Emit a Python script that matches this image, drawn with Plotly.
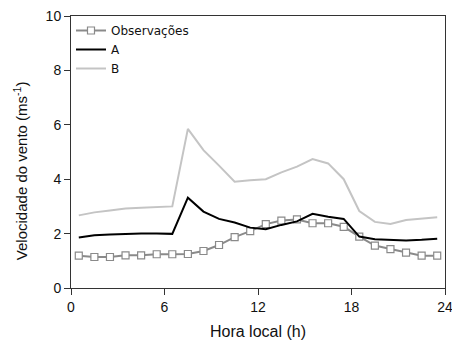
import plotly.graph_objects as go

hours = [0.5, 1.5, 2.5, 3.5, 4.5, 5.5, 6.5, 7.5, 8.5, 9.5, 10.5, 11.5,
         12.5, 13.5, 14.5, 15.5, 16.5, 17.5, 18.5, 19.5, 20.5, 21.5, 22.5, 23.5]
obs = [1.19, 1.14, 1.14, 1.20, 1.20, 1.24, 1.24, 1.25, 1.36, 1.58, 1.87, 2.09,
       2.35, 2.48, 2.52, 2.38, 2.38, 2.25, 1.89, 1.56, 1.43, 1.30, 1.19, 1.19]
a_vals = [1.86, 1.94, 1.97, 1.99, 2.00, 2.00, 1.99, 3.32, 2.81, 2.54, 2.41, 2.22,
          2.16, 2.32, 2.45, 2.73, 2.62, 2.54, 1.89, 1.79, 1.76, 1.75, 1.77, 1.81]
b_vals = [2.67, 2.78, 2.85, 2.92, 2.95, 2.97, 3.00, 5.85, 5.07, 4.50, 3.91, 3.96,
          4.00, 4.25, 4.46, 4.74, 4.58, 4.00, 2.83, 2.43, 2.35, 2.50, 2.56, 2.60]
x_ticks = [0, 6, 12, 18, 24]
y_ticks = [0, 2, 4, 6, 8, 10]

fig = go.Figure()
fig.add_trace(go.Scatter(x=hours, y=obs, name="Observações", mode="lines+markers",
                         line=dict(color="#8a8a8a", width=2),
                         marker=dict(symbol="square", size=7, color="white",
                                     line=dict(color="#8a8a8a", width=1.2))))
fig.add_trace(go.Scatter(x=hours, y=a_vals, name="A", mode="lines",
                         line=dict(color="black", width=2)))
fig.add_trace(go.Scatter(x=hours, y=b_vals, name="B", mode="lines",
                         line=dict(color="#c4c4c4", width=2)))

axis_common = dict(showgrid=False, zeroline=False, showline=True, linecolor="#333",
                   linewidth=1, mirror=True, ticks="outside", ticklen=6,
                   tickcolor="#333", automargin=False, ticklabeloverflow="allow",
                   tickfont=dict(family="Liberation Sans, Arial", size=14, color="#111"))
fig.update_xaxes(range=[0, 24], tickvals=x_ticks,
                 title=dict(text="Hora local (h)", font=dict(family="Liberation Sans, Arial", size=16, color="#111"), standoff=12),
                 **axis_common)
fig.update_yaxes(range=[0, 10], tickvals=y_ticks, **axis_common)
fig.add_annotation(text="Velocidade do vento (ms<sup>-1</sup>)", textangle=-90,
                   xref="paper", yref="paper", x=-0.136, y=0.43,
                   xanchor="center", yanchor="middle", showarrow=False,
                   font=dict(family="Liberation Sans, Arial", size=15, color="#111"))
fig.update_layout(width=452, height=341, margin=dict(l=71, r=7, t=16, b=53),
                  plot_bgcolor="white", paper_bgcolor="white",
                  legend=dict(x=0.0, y=1.0, xanchor="left", yanchor="top",
                              bgcolor="rgba(0,0,0,0)", tracegroupgap=0,
                              font=dict(family="DejaVu Sans, Verdana", size=12, color="#111")))
fig.write_html("out.html")
